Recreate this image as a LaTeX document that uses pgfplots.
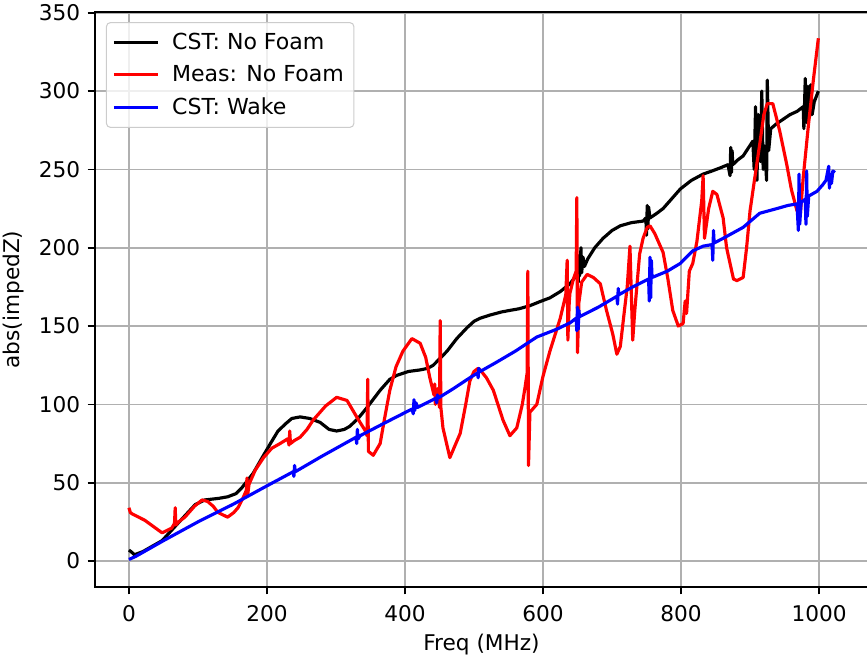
\documentclass[border=0pt]{standalone}
\usepackage{fontspec}
\setmainfont{DejaVu Sans}
\usepackage{pgfplots}
\pgfplotsset{compat=1.18}

\definecolor{gridgray}{HTML}{B0B0B0}
\definecolor{legedge}{HTML}{CCCCCC}

\begin{document}
\begin{tikzpicture}
\begin{axis}[
  scale only axis, width=368.1pt, height=273.8pt,
  xmin=-49.3, xmax=1071, ymin=-16.6, ymax=350.5,
  xtick={0,200,400,600,800,1000}, ytick={0,50,100,150,200,250,300,350},
  xtick pos=lower, ytick pos=left, tick align=outside,
  major tick length=3.5pt,
  every tick/.style={black, line width=0.8pt},
  axis line style={line width=0.8pt},
  grid=major, grid style={gridgray, line width=0.8pt},
  /pgf/number format/assume math mode=true,
  /pgf/number format/1000 sep={},
  tick label style={font=\fontsize{10.3}{12}\selectfont},
  xticklabel style={yshift=-1.5pt},
  label style={font=\fontsize{10.3}{12}\selectfont},
  xlabel style={yshift=1pt},
  xlabel={Freq (MHz)}, ylabel={abs(impedZ)},
  legend cell align=left,
  legend style={at={(0,1)}, anchor=north west, xshift=5.2pt, yshift=-4.8pt,
    draw=legedge, line width=0.5pt, rounded corners=2pt, fill=white, fill opacity=0.8,
    draw opacity=1, text opacity=1, font=\fontsize{10.5}{12}\selectfont,
    row sep=2.2pt, inner xsep=2.8pt, inner ysep=2.8pt},
  legend image code/.code={\draw[#1, line width=1.5pt] (0pt,0pt) -- (21pt,0pt); \path (25pt,0pt);},
  every axis plot/.append style={line width=1.5pt, line join=round},
]
\coordinate (ll) at (rel axis cs:0,0);
\coordinate (ur) at (rel axis cs:1,1);

\addplot[black] coordinates {
(0,7) (3,6) (8,4) (20,6) (48,13) (75,26) (96,36) (110,39) (130,40) (143,41) (155,43) (164,47)
(180,56) (193,66) (205,75) (216,83) (228,88) (236,91) (248,92) (262,91) (277,88.5) (290,84)
(301,83) (312,84) (320,86) (332,91) (345,98) (364,109) (378,116) (388,118.5) (405,121) (422,122)
(433,123) (441,125) (450,129) (461,134) (475,142) (490,149) (500,153) (509,155) (523,157) (540,159)
(552,160) (565,161) (581,163) (595,165.5) (610,168) (625,172) (639,177) (648,182)
(650,186) (651,178) (652,195) (653,182) (655,200) (656,184) (658,194) (660,188) (665,193)
(675,200) (687,206) (700,211) (712,214) (728,216) (745,217) (749,219) (750,208) (751,227)
(752,212) (753,226) (755,219) (765,222) (774,225) (786,231) (796,236) (799,237.5) (815,243)
(832,247) (845,249) (857,251) (868,253) (871,246) (872,264) (873,248) (874,262) (875,253)
(882,256) (890,258.6) (904,268) (906,250) (908,290) (910,243) (912,285) (915,255) (917,300)
(919,250) (921,265) (924,243) (925,307) (927,262) (930,276) (938,279) (948,282) (958,285)
(968,287) (977,290) (978,276) (980,308) (982,280) (984,303) (986,283) (988,304) (990,285)
(993,293) (999,300)
};
\addlegendentry{CST: No Foam}

\addplot[red] coordinates {
(0,34) (2,31) (5,30) (23,26) (48,18) (62,21) (66,24) (67,34) (68,23) (72,25) (81,28) (95,35)
(106,39) (114,38) (122,35) (129,31) (143,28) (152,31) (158,34) (165,40) (170,45) (171,53)
(172,42) (174,49) (183,58) (195,66) (207,72) (219,75) (230,78) (232,74) (233,83) (234,75)
(240,77) (248,79) (258,84) (267,90) (285,99) (301,104.5) (316,102.5) (330,92) (342,83.5)
(345,80) (346,116) (347,70) (354,67.5) (364,75) (370,90) (378,109) (387,124) (397,134)
(410,142) (422,139) (430,130) (436,117) (442,106) (443,113) (444,100) (447,110) (450,98)
(451,153.5) (452,98) (455,85) (465,66) (480,81.5) (488,100) (494,115) (500,121) (506,123)
(509,122) (518,117) (528,109) (542,90) (552,80) (562,85) (570,100) (574,111) (577,120)
(578,185) (579,61) (581,95) (591,100) (600,118) (610,134) (620,148) (625,155) (633,170)
(635,192) (636,141) (638,165) (639,171) (644,180) (648,185) (649,232) (650,133) (652,165)
(656,178) (664,183) (673,181) (683,177) (692,160) (701,145) (707,132) (712,137) (718,160)
(722,175) (726,201) (728,170) (730,141) (733,160) (740,196) (745,206) (751,213) (755,214)
(762,209) (774,197) (781,180) (788,160) (796,150) (803,151.6) (806,166) (808,158) (812,185)
(817,190) (823,204) (830,230) (832,246) (834,206) (840,225) (846,236) (852,234) (861,219)
(866,200) (871,190) (876,180) (881,179) (890,181) (895,200) (900,223.6) (907,245) (914,266)
(920,285) (925,292) (933,292) (943,274.5) (953,253.5) (960,237) (968,223.6) (973,222)
(977,244.6) (985,280) (992,308) (999,333.7)
};
\addlegendentry{Meas: No Foam}

\addplot[blue] coordinates {
(0,1) (10,3) (50,13) (100,25) (150,36) (200,48) (238,57) (239,54) (240,61) (241,57) (280,67)
(329,79) (330,75) (331,84) (332,78) (335,80) (370,88) (410,97) (412,94) (413,103) (414,96)
(416,101) (418,98) (445,104) (446,101) (447,106) (448,104) (470,110) (494,117) (505,120)
(506,117) (507,123) (509,121) (533,127) (560,134) (591,143) (620,148) (639,152) (648,155)
(649,147) (650,162) (651,148) (652,160) (653,156) (680,162) (707,169) (708,164) (709,174)
(710,170) (730,175) (753,180) (754,166) (755,194) (756,168) (757,192) (758,181) (780,185)
(799,190) (817,198) (832,201) (845,202) (846,192) (847,211) (848,203) (861,206) (890,213)
(914,222) (939,225) (955,227) (968,228) (970,211) (971,247) (972,215) (974,229) (980,231)
(981,215) (982,249) (983,220) (985,233) (997,236) (1005,240) (1010,243) (1014,252) (1015,238)
(1016,247) (1018,241) (1020,249) (1023,248)
};
\addlegendentry{CST: Wake}
\end{axis}
\pgfresetboundingbox
\path ([shift={(-45.2pt,-33.8pt)}]ll) rectangle ([shift={(-0.5pt,5.7pt)}]ur);
\end{tikzpicture}
\end{document}
